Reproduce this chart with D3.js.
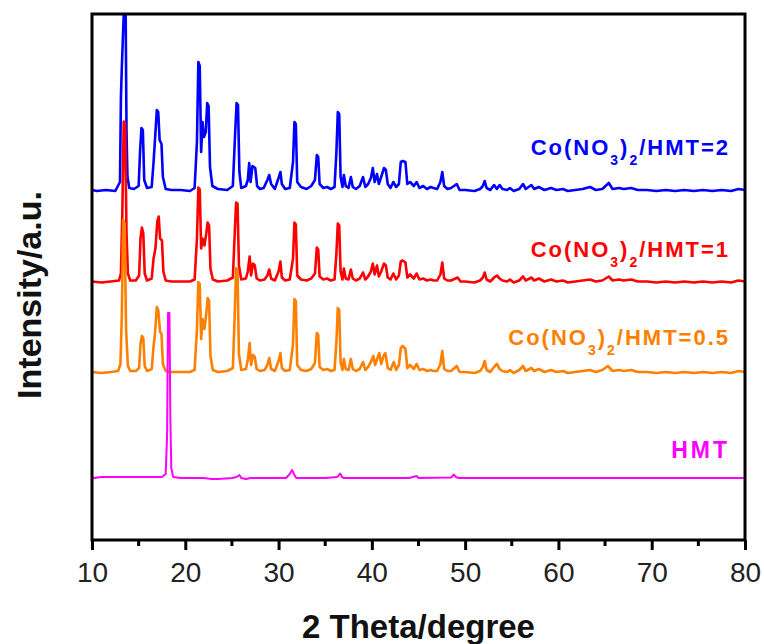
<!DOCTYPE html>
<html>
<head>
<meta charset="utf-8">
<script src="https://cdn.jsdelivr.net/npm/d3@7"></script>
<style>
  body { margin: 0; background: #fff; }
  text { font-family: Arial, "Liberation Sans", sans-serif; }
</style>
</head>
<body>
<div id="chart"></div>
<script>
// x ticks (2 theta)
var X_TICKS = [10, 20, 30, 40, 50, 60, 70, 80];
var X_MINOR = [15, 25, 35, 45, 55, 65, 75];

// series metadata, drawn in this order
var SERIES_KEYS = ["r2", "r1", "r05", "hmt"];
var SERIES_COLORS = {r2: "#0000FF", r1: "#FF0000", r05: "#FF8000", hmt: "#FF00FF"};
var SERIES_OFFSETS = {r2: 348, r1: 256.5, r05: 166, hmt: 62};
var SERIES_RATIO = {r2: "2", r1: "1", r05: "0.5", hmt: null};

// [2theta, intensity above own baseline]
var PATTERN_R2 = [
  [10,2],[10.5,1],[11.5,2],[12.5,1],[13,10],[13.1,95],[13.2,125],[13.45,190],[13.6,190],[13.7,60],[13.8,15],[14,4],
  [14.5,3],[15,6],[15.15,40],[15.3,64],[15.45,62],[15.6,12],[15.9,4],[16.4,5],[16.6,30],[16.75,52],[16.95,82],[17.1,80],
  [17.25,52],[17.45,48],[17.6,15],[17.9,3],[18.5,2],[19.5,2],[20.5,1],[21,4],[21.25,50],[21.4,130],[21.55,126],[21.7,40],
  [21.85,70],[22,55],[22.2,60],[22.35,89],[22.5,86],[22.65,25],[22.9,6],[23.5,3],[24.5,2],[25.1,6],[25.35,60],[25.5,89],
  [25.65,87],[25.8,20],[26,4],[26.5,6],[26.7,12],[26.85,29],[27,10],[27.2,26],[27.35,25],[27.5,24],[27.7,6],[28,3],
  [28.4,4],[28.8,12],[29,17],[29.2,8],[29.6,3],[30,14],[30.2,20],[30.35,8],[30.7,3],[31.2,4],[31.55,30],[31.7,70],
  [31.85,68],[32,10],[32.4,5],[33,3],[33.5,6],[33.9,12],[34.1,37],[34.25,35],[34.4,8],[34.8,4],[35.2,5],[35.6,3],
  [36,5],[36.2,40],[36.35,80],[36.5,78],[36.65,15],[36.85,5],[37,17],[37.2,6],[37.5,4],[37.75,15],[37.95,5],[38.3,3],
  [38.7,6],[39.05,15],[39.3,5],[39.6,8],[39.9,14],[40.1,24],[40.3,10],[40.55,18],[40.75,8],[41,15],[41.3,24],[41.5,22],
  [41.7,8],[42,4],[42.3,10],[42.6,5],[42.9,8],[43.1,30],[43.3,31],[43.6,30],[43.8,8],[44.1,10],[44.5,6],[44.8,10],
  [45.1,4],[45.5,6],[45.9,3],[46.3,5],[46.6,4],[47,3],[47.35,10],[47.55,20],[47.75,6],[48.1,3],[48.5,4],[49.1,8],
  [49.4,2],[50,2],[51,1],[51.6,3],[51.9,6],[52.1,11],[52.3,4],[52.7,2],[53.1,7],[53.4,3],[53.7,7],[54,3],[54.5,2],
  [54.8,4],[55.2,1],[55.8,3],[56.2,8],[56.5,3],[57.1,7],[57.4,3],[57.9,5],[58.5,2],[59.2,4],[59.8,2],[60.5,3],[61,1],
  [61.8,2],[62.6,3],[63.4,5],[64,2],[64.7,3],[65.4,9],[65.8,3],[66.5,4],[67,3],[67.8,4],[68.5,2],[69.5,2],[70.5,1],
  [71.5,2],[72.5,1],[73.5,2],[74.5,1],[75.5,2],[76.5,1],[77.5,2],[78.5,1],[79.3,3],[80,2]
];
var PATTERN_R1 = [
  [10,2],[11,1],[12,2],[12.9,3],[13.1,10],[13.25,70],[13.4,162],[13.55,160],[13.7,50],[13.85,10],[14.1,3],[14.7,3],
  [15.05,8],[15.2,45],[15.35,56],[15.5,50],[15.65,10],[15.9,3],[16.4,5],[16.6,25],[16.8,35],[17,62],[17.15,67],[17.3,45],
  [17.5,43],[17.65,12],[17.9,3],[18.5,2],[19.5,2],[20.5,2],[21,4],[21.25,45],[21.4,96],[21.55,94],[21.7,35],[21.85,45],
  [22.05,38],[22.25,50],[22.4,61],[22.55,58],[22.7,15],[22.95,4],[23.5,2],[24.5,3],[25.1,6],[25.3,50],[25.45,81],[25.6,80],
  [25.75,18],[26,4],[26.5,5],[26.7,12],[26.9,27],[27.05,8],[27.25,20],[27.45,18],[27.65,5],[28,3],[28.5,4],[28.8,8],
  [29,14],[29.2,5],[29.6,3],[30,12],[30.2,22],[30.35,6],[30.7,3],[31.2,4],[31.55,25],[31.7,61],[31.85,59],[32,8],
  [32.4,4],[33,3],[33.5,5],[33.9,10],[34.1,36],[34.25,34],[34.4,7],[34.8,4],[35.2,5],[35.6,3],[36,4],[36.2,30],
  [36.35,60],[36.5,58],[36.65,12],[36.85,4],[37,15],[37.2,5],[37.5,4],[37.75,14],[37.95,5],[38.3,3],[38.7,5],[39.05,11],
  [39.3,4],[39.6,7],[39.9,12],[40.1,20],[40.3,9],[40.55,18],[40.75,7],[41,12],[41.3,20],[41.5,18],[41.7,6],[42,4],
  [42.3,10],[42.6,4],[42.9,8],[43.1,22],[43.3,23],[43.6,21],[43.8,6],[44.1,9],[44.5,5],[44.8,10],[45.1,4],[45.5,5],
  [45.9,3],[46.3,4],[46.6,3],[47,3],[47.35,9],[47.55,21],[47.75,5],[48.1,3],[48.5,3],[49.2,6],[49.5,2],[50,2],[51,1],
  [51.6,3],[51.9,6],[52.1,11],[52.3,4],[52.7,2],[53.1,6],[53.4,8],[53.7,5],[54,3],[54.5,2],[54.8,4],[55.2,1],[55.8,3],
  [56.2,7],[56.5,3],[57.1,6],[57.4,3],[57.9,5],[58.5,2],[59.2,4],[59.8,2],[60.5,3],[61,1],[61.8,2],[62.6,3],[63.4,4],
  [64,2],[64.7,3],[65.4,7],[65.8,3],[66.5,4],[67,3],[67.8,4],[68.5,2],[69.5,2],[70.5,1],[71.5,2],[72.5,1],[73.5,2],
  [74.5,1],[75.5,2],[76.5,1],[77.5,2],[78.5,1],[79.3,3],[80,2]
];
var PATTERN_R05 = [
  [10,2],[11,1],[12,2],[12.8,3],[13.05,10],[13.2,60],[13.35,154],[13.5,150],[13.65,45],[13.85,8],[14.1,3],[14.7,3],
  [15.05,6],[15.2,30],[15.35,38],[15.5,36],[15.65,8],[15.9,3],[16.4,5],[16.6,28],[16.75,40],[16.95,67],[17.1,64],[17.3,42],
  [17.45,40],[17.6,10],[17.9,3],[18.5,2],[19.5,2],[20.5,2],[21,4],[21.25,45],[21.4,92],[21.55,90],[21.7,35],[21.85,55],
  [22.05,45],[22.25,60],[22.4,76],[22.55,73],[22.7,18],[22.95,4],[23.5,2],[24.5,3],[25.1,6],[25.3,60],[25.45,106],[25.6,104],
  [25.75,20],[26,4],[26.5,5],[26.7,14],[26.9,31],[27.05,9],[27.25,19],[27.45,17],[27.65,5],[28,3],[28.5,4],[28.8,9],
  [29,16],[29.2,5],[29.6,3],[30,13],[30.2,21],[30.35,6],[30.7,3],[31.2,4],[31.55,30],[31.7,75],[31.85,73],[32,9],
  [32.4,4],[33,3],[33.5,5],[33.9,11],[34.1,41],[34.25,39],[34.4,7],[34.8,4],[35.2,5],[35.6,3],[36,4],[36.2,32],
  [36.35,66],[36.5,64],[36.65,12],[36.85,4],[37,15],[37.2,5],[37.5,4],[37.75,15],[37.95,5],[38.3,3],[38.7,5],[39.05,12],
  [39.3,4],[39.6,7],[39.9,12],[40.15,18],[40.35,9],[40.6,16],[40.8,21],[41,10],[41.25,18],[41.45,21],[41.7,6],[42,4],
  [42.35,12],[42.6,4],[42.9,9],[43.1,26],[43.3,28],[43.6,25],[43.8,6],[44.1,9],[44.5,5],[44.8,10],[45.1,4],[45.5,5],
  [45.9,3],[46.3,4],[46.6,3],[47,3],[47.35,10],[47.55,23],[47.75,5],[48.1,3],[48.5,3],[49.1,8],[49.4,2],[50,2],[51,1],
  [51.6,3],[51.9,7],[52.1,13],[52.3,4],[52.7,2],[53.1,7],[53.4,10],[53.7,5],[54,3],[54.5,2],[54.8,4],[55.2,1],[55.8,4],
  [56.2,8],[56.5,3],[57.1,6],[57.4,3],[57.9,5],[58.5,2],[59.2,4],[59.8,2],[60.5,3],[61,1],[61.8,2],[62.6,3],[63.4,4],
  [64,2],[64.7,4],[65.3,8],[65.8,3],[66.5,4],[67,3],[67.8,4],[68.5,2],[69.5,2],[70.5,1],[71.5,2],[72.5,1],[73.5,2],
  [74.5,1],[75.5,2],[76.5,1],[77.5,2],[78.5,1],[79.3,3],[80,2]
];
var PATTERN_HMT = [
  [10,1],[10.2,0],[11,1],[12,1],[13,1],[14,1],[15,1],[16,1],[17,1],[17.5,1],[17.9,4],[18.05,43],[18.15,165],[18.3,165],
  [18.4,60],[18.5,10],[18.7,1],[19.5,0],[21,0],[22,0],[22.8,-1],[23.5,-1],[24.3,-0.5],[25,0],[25.5,1],[25.8,3],[26,0],
  [26.5,-1],[27,0],[30.8,0],[31.2,4],[31.45,8],[31.7,3],[31.9,0],[35,0],[36.3,1],[36.6,4.5],[36.8,1],[37,0],[44,0],
  [44.8,2],[45,0],[48.5,0.5],[48.8,3.5],[49,1],[49.3,0],[80,0]
];
var PATTERNS = {r2: PATTERN_R2, r1: PATTERN_R1, r05: PATTERN_R05, hmt: PATTERN_HMT};

// label baselines (in intensity units of the plot)
var LABEL_Y = {r2: 385, r1: 283.5, r05: 195, hmt: 82};

var MARGIN = {left: 92, right: 19, top: 14, bottom: 104};
var W = 764, H = 644;
var width = W - MARGIN.left - MARGIN.right;
var height = H - MARGIN.top - MARGIN.bottom;

var svg = d3.select("#chart").append("svg")
    .attr("width", W)
    .attr("height", H)
  .append("g")
    .attr("transform", "translate(" + MARGIN.left + "," + MARGIN.top + ")");

var xScale = d3.scaleLinear().domain([10, 80]).range([0, width]);
var yScale = d3.scaleLinear().domain([0, height]).range([height, 0]);

svg.append("clipPath").attr("id", "plot-clip")
  .append("rect").attr("width", width).attr("height", height);

var plot = svg.append("g").attr("clip-path", "url(#plot-clip)");

SERIES_KEYS.forEach(function(key) {
    var off = SERIES_OFFSETS[key];
    plot.append("path")
        .datum(PATTERNS[key])
        .attr("fill", "none")
        .attr("stroke", SERIES_COLORS[key])
        .attr("stroke-width", key === "hmt" ? 2 : 2.6)
        .attr("stroke-linejoin", "round")
        .attr("d", d3.line()
            .x(function(d) { return xScale(d[0]); })
            .y(function(d) { return yScale(d[1] + off); })
        );
});

// labels
var labelX = xScale(78.4);
SERIES_KEYS.forEach(function(key) {
    var t = svg.append("text")
        .attr("x", labelX)
        .attr("y", yScale(LABEL_Y[key]))
        .attr("text-anchor", "end")
        .attr("fill", SERIES_COLORS[key])
        .attr("font-weight", "bold")
        .attr("font-size", 22)
        .attr("letter-spacing", key === "hmt" ? 3 : 2);
    if (SERIES_RATIO[key] === null) {
        t.text("HMT").attr("font-size", 23);
        return;
    }
    t.append("tspan").text("Co(NO");
    t.append("tspan").text("3").attr("font-size", 14).attr("dy", 10);
    t.append("tspan").text(")").attr("dy", -10);
    t.append("tspan").text("2").attr("font-size", 14).attr("dy", 10);
    t.append("tspan").text("/HMT=" + SERIES_RATIO[key]).attr("dy", -10);
});

// x axis
var xAxis = svg.append("g")
    .attr("transform", "translate(0," + height + ")")
    .call(d3.axisBottom(xScale).tickValues(X_TICKS).tickSize(10).tickPadding(12).tickSizeOuter(0));
xAxis.select(".domain").remove();
xAxis.selectAll(".tick line").attr("stroke", "#000").attr("stroke-width", 3);
xAxis.selectAll(".tick text")
    .attr("font-size", 28)
    .attr("fill", "#222")
    .style("font-family", "Arial, 'Liberation Sans', sans-serif");

svg.append("g").selectAll("line")
    .data(X_MINOR)
    .enter().append("line")
        .attr("x1", function(d) { return xScale(d); })
        .attr("x2", function(d) { return xScale(d); })
        .attr("y1", height)
        .attr("y2", height + 6)
        .attr("stroke", "#000")
        .attr("stroke-width", 3);

// frame
svg.append("rect")
    .attr("width", width)
    .attr("height", height)
    .attr("fill", "none")
    .attr("stroke", "#000")
    .attr("stroke-width", 3);

// axis titles
svg.append("text")
    .attr("x", width / 2)
    .attr("y", height + 98)
    .attr("text-anchor", "middle")
    .attr("font-weight", "bold")
    .attr("font-size", 33)
    .attr("fill", "#111")
    .text("2 Theta/degree");

svg.append("text")
    .attr("transform", "rotate(-90)")
    .attr("x", -(295 - MARGIN.top))
    .attr("y", -MARGIN.left + 41)
    .attr("text-anchor", "middle")
    .attr("font-weight", "bold")
    .attr("font-size", 34)
    .attr("fill", "#111")
    .text("Intensity/a.u.");
</script>
</body>
</html>
